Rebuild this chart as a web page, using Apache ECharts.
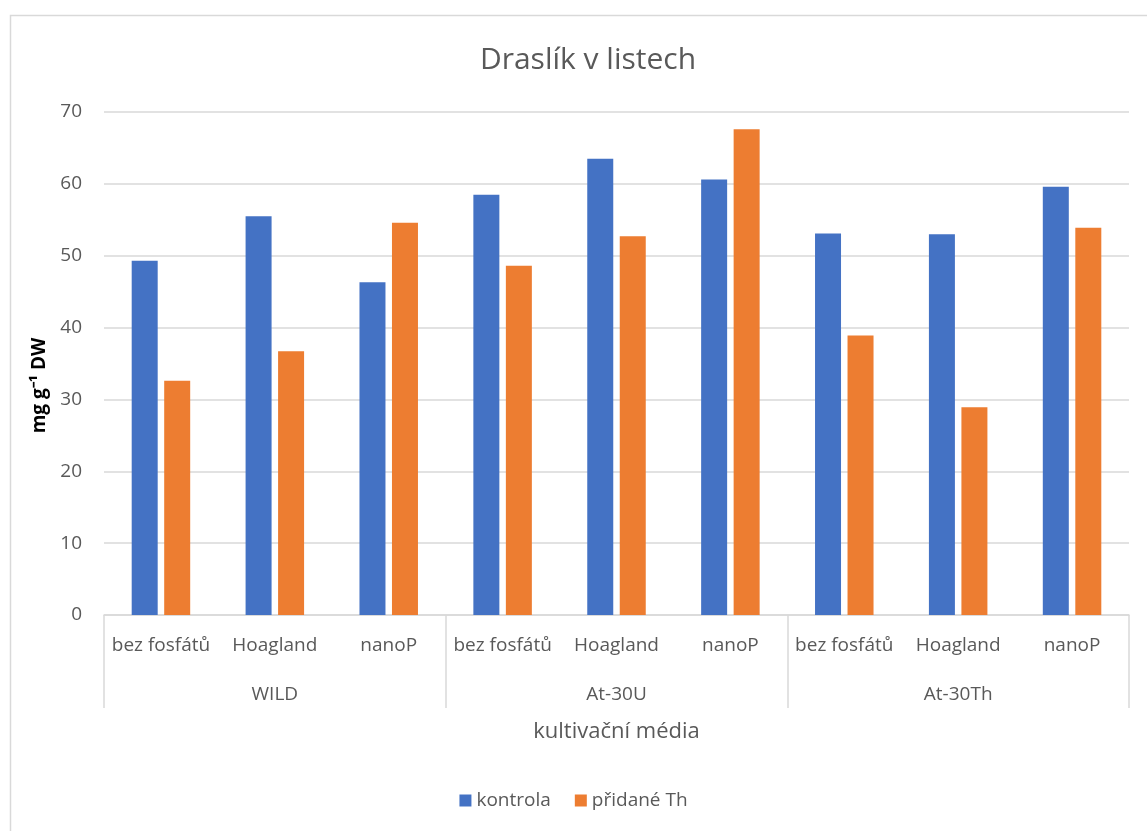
<!DOCTYPE html>
<html>
<head>
<meta charset="utf-8">
<title>Draslík v listech</title>
<script src="https://cdn.jsdelivr.net/npm/echarts@6/dist/echarts.min.js"></script>
<style>
  html, body { margin: 0; padding: 0; background: #fff; }
  #chart { width: 1147px; height: 831px; }
</style>
</head>
<body>
<div id="chart"></div>
<script>
  // media on the first axis level, strains on the second
  let media = ['bez fosfátů', 'Hoagland', 'nanoP', 'bez fosfátů', 'Hoagland', 'nanoP', 'bez fosfátů', 'Hoagland', 'nanoP'];
  let groups = ['WILD', 'At-30U', 'At-30Th'];
  let kontrola = [49.3, 55.5, 46.3, 58.5, 63.5, 60.6, 53.1, 53.0, 59.6];
  let pridaneTh = [32.6, 36.7, 54.6, 48.6, 52.7, 67.6, 38.9, 28.9, 53.9];
  let yTicks = [0, 70, 10];  // min, max, step

  let font = 'Open Sans';
  let grey = '#595959';
  let lineGrey = '#d9d9d9';

  let myChart = echarts.init(document.getElementById('chart'));
  let option = {
    textStyle: { fontFamily: font },
    color: ['#4472c4', '#ed7d31'],
    animation: false,
    graphic: [{
      type: 'rect',
      left: 8,
      top: 13,
      shape: { width: 1300, height: 1000 },
      style: { fill: 'none', stroke: lineGrey, lineWidth: 1.5 },
      silent: true
    }],
    title: {
      text: 'Draslík v listech',
      left: 583,
      textAlign: 'center',
      top: 40,
      textStyle: { fontFamily: font, fontSize: 30, fontWeight: 'normal', color: grey }
    },
    legend: {
      bottom: 16,
      left: 'center',
      itemWidth: 12,
      itemHeight: 12,
      itemGap: 24,
      icon: 'rect',
      textStyle: { fontFamily: font, fontSize: 19, color: grey },
      data: ['kontrola', 'přidané Th']
    },
    grid: {
      left: 104,
      right: 18,
      top: 112,
      bottom: 216
    },
    xAxis: [
      {
        type: 'category',
        data: media,
        position: 'bottom',
        axisLine: { lineStyle: { color: lineGrey, width: 1.5 } },
        axisTick: { show: false },
        axisLabel: { fontFamily: font, fontSize: 19, color: grey, margin: 21, interval: 0 }
      },
      {
        type: 'category',
        data: groups,
        position: 'bottom',
        axisLine: { show: false },
        axisTick: { show: true, length: 93, lineStyle: { color: lineGrey, width: 1.5 } },
        axisLabel: { fontFamily: font, fontSize: 19, color: grey, margin: 70 },
        name: 'kultivační média',
        nameLocation: 'middle',
        nameGap: 106,
        nameTextStyle: { fontFamily: font, fontSize: 22, color: grey }
      }
    ],
    yAxis: {
      type: 'value',
      min: yTicks[0],
      max: yTicks[1],
      interval: yTicks[2],
      axisLine: { show: false },
      axisTick: { show: false },
      splitLine: { lineStyle: { color: lineGrey, width: 1.5 } },
      axisLabel: { fontFamily: font, fontSize: 19, color: grey, margin: 22 },
      name: 'mg g⁻¹ DW',
      nameLocation: 'middle',
      nameGap: 54,
      nameTextStyle: { fontFamily: font, fontSize: 19, fontWeight: 'bold', color: '#000', padding: [0, 44, 0, 0] }
    },
    series: [
      {
        name: 'kontrola',
        type: 'bar',
        xAxisIndex: 0,
        barWidth: 26,
        barGap: '25%',
        data: kontrola
      },
      {
        name: 'přidané Th',
        type: 'bar',
        xAxisIndex: 0,
        barWidth: 26,
        barGap: '25%',
        data: pridaneTh
      }
    ]
  };
  myChart.setOption(option);
</script>
</body>
</html>
